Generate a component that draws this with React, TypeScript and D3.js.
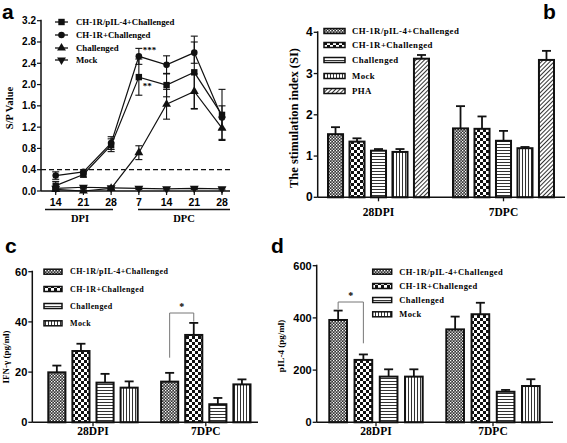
import React from "react";
import * as d3 from "d3";

// ---------- DATA ----------
const timeLabels = ["14", "21", "28", "7", "14", "21", "28"];
const lineSeries = ["CH-1R/pIL-4+Challenged", "CH-1R+Challenged", "Challenged", "Mock"];
const spSquare = [0.10, 0.31, 0.86, 2.14, 1.99, 2.23, 1.43];
const spSquareErr = [0.08, 0.05, 0.12, 0.34, 0.22, 0.68, 0.48];
const spCircle = [0.29, 0.36, 0.90, 2.53, 2.37, 2.60, 1.38];
const spCircleErr = [0.07, 0.04, 0.12, 0.15, 0.17, 0.20, 0.22];
const spTriangle = [0.03, 0.0, 0.05, 0.72, 1.63, 1.87, 1.18];
const spTriangleErr = [0.02, 0.02, 0.02, 0.13, 0.28, 0.33, 0.21];
const spMock = [0.05, 0.07, 0.06, 0.05, 0.04, 0.05, 0.04];
const spMockErr = [0.02, 0.02, 0.02, 0.02, 0.02, 0.02, 0.02];
const spTicks = [0, 0.4, 0.8, 1.2, 1.6, 2.0, 2.4, 2.8, 3.2];

const barCats = ["28DPI", "7DPC"];
const siSeries = ["CH-1R/pIL-4+Challenged", "CH-1R+Challenged", "Challenged", "Mock", "PHA"];
const siValues = [[1.53, 1.35, 1.13, 1.10, 3.36], [1.67, 1.66, 1.37, 1.19, 3.33]];
const siErrors = [[0.17, 0.08, 0.04, 0.07, 0.09], [0.54, 0.30, 0.24, 0.03, 0.22]];
const siTicks = [0, 1, 2, 3, 4];

const cytSeries = ["CH-1R/pIL-4+Challenged", "CH-1R+Challenged", "Challenged", "Mock"];
const ifnValues = [[19.9, 28.4, 15.8, 13.8], [16.2, 34.8, 7.2, 15.1]];
const ifnErrors = [[2.7, 2.9, 3.5, 2.5], [3.5, 4.8, 2.5, 2.0]];
const ifnTicks = [0, 20, 40, 60];
const il4Values = [[392, 239, 175, 175], [356, 414, 117, 139]];
const il4Errors = [[36, 21, 28, 28], [49, 44, 7, 26]];
const il4Ticks = [0, 200, 400, 600];

const patternIds = ["pFine", "pChecker", "pHoriz", "pVert", "pDiag"];

const SANS = "'Liberation Sans', Arial, sans-serif";
const SERIF = "'Liberation Serif', 'Times New Roman', serif";

function Patterns() {
  return (
    <defs>
      <pattern id="pFine" patternUnits="userSpaceOnUse" width={3} height={3}>
        <rect width={3} height={3} fill="#333" />
        <rect x={0} y={0} width={1.3} height={1.3} fill="#fff" />
        <rect x={1.5} y={1.5} width={1.3} height={1.3} fill="#fff" />
      </pattern>
      <pattern id="pChecker" patternUnits="userSpaceOnUse" width={6} height={6}>
        <rect width={6} height={6} fill="#fff" />
        <rect x={0} y={0} width={3} height={3} fill="#111" />
        <rect x={3} y={3} width={3} height={3} fill="#111" />
      </pattern>
      <pattern id="pHoriz" patternUnits="userSpaceOnUse" width={4} height={3}>
        <rect width={4} height={3} fill="#fff" />
        <rect x={0} y={0} width={4} height={1} fill="#333" />
      </pattern>
      <pattern id="pVert" patternUnits="userSpaceOnUse" width={3} height={4}>
        <rect width={3} height={4} fill="#fff" />
        <rect x={0} y={0} width={1} height={4} fill="#333" />
      </pattern>
      <pattern id="pDiag" patternUnits="userSpaceOnUse" width={3} height={3} patternTransform="rotate(45)">
        <rect width={3} height={3} fill="#fff" />
        <rect x={0} y={0} width={1} height={3} fill="#333" />
      </pattern>
    </defs>
  );
}

function Marker({ kind, x, y }: { kind: number; x: number; y: number }) {
  if (kind === 0) return <rect x={x - 3.2} y={y - 3.2} width={6.4} height={6.4} fill="#111" />;
  if (kind === 1) return <circle cx={x} cy={y} r={3.3} fill="#111" />;
  const sym = d3.symbol().type(d3.symbolTriangle).size(34)();
  if (kind === 2) return <path d={sym || ""} transform={`translate(${x},${y})`} fill="#111" />;
  return <path d={sym || ""} transform={`translate(${x},${y}) rotate(180)`} fill="#111" />;
}

function PanelA() {
  const y = d3.scaleLinear().domain([0, 3.2]).range([191, 20.7]);
  const x = d3.scaleLinear().domain([0, 6]).range([55.7, 222]);
  const series = [
    { v: spSquare, e: spSquareErr },
    { v: spCircle, e: spCircleErr },
    { v: spTriangle, e: spTriangleErr },
    { v: spMock, e: spMockErr },
  ];
  const line = d3.line<number>().x((_, i) => x(i)).y((d) => y(d));
  const legendY = [22, 35, 48, 60];
  return (
    <g>
      <text x={2} y={19} fontFamily={SANS} fontWeight="bold" fontSize={21}>a</text>
      <text transform={`translate(11,108) rotate(-90)`} textAnchor="middle" dominantBaseline="middle" fontFamily={SERIF} fontWeight="bold" fontSize={10.5}>S/P Value</text>
      <line x1={41} x2={41} y1={y(0)} y2={y(3.2) - 1} stroke="#111" strokeWidth={1.5} />
      <line x1={41} x2={230} y1={y(0)} y2={y(0)} stroke="#111" strokeWidth={1.5} />
      {spTicks.map((t) => (
        <g key={t}>
          <line x1={37} x2={41} y1={y(t)} y2={y(t)} stroke="#111" strokeWidth={1.2} />
          <text x={36} y={y(t)} textAnchor="end" dominantBaseline="central" fontFamily={SANS} fontWeight="bold" fontSize={10}>{t.toFixed(1)}</text>
        </g>
      ))}
      {timeLabels.map((t, i) => (
        <g key={i}>
          <line x1={x(i)} x2={x(i)} y1={y(0)} y2={y(0) + 4} stroke="#111" strokeWidth={1.2} />
          <text x={x(i)} y={206} textAnchor="middle" fontFamily={SANS} fontWeight="bold" fontSize={10.5}>{t}</text>
        </g>
      ))}
      <line x1={45} x2={113} y1={209.5} y2={209.5} stroke="#111" strokeWidth={1.3} />
      <line x1={138} x2={230} y1={209.5} y2={209.5} stroke="#111" strokeWidth={1.3} />
      <text x={80} y={222} textAnchor="middle" fontFamily={SERIF} fontWeight="bold" fontSize={10.5}>DPI</text>
      <text x={184} y={222} textAnchor="middle" fontFamily={SERIF} fontWeight="bold" fontSize={10.5}>DPC</text>
      <line x1={41} x2={230} y1={y(0.4)} y2={y(0.4)} stroke="#111" strokeWidth={1.2} strokeDasharray="5,3" />
      {series.map((s, k) => (
        <g key={k}>
          <path d={line(s.v) || ""} fill="none" stroke="#111" strokeWidth={1.2} />
          {s.v.map((v, i) => (
            <g key={i} stroke="#111" strokeWidth={1.1}>
              <line x1={x(i)} x2={x(i)} y1={y(v + s.e[i])} y2={y(Math.max(0, v - s.e[i]))} />
              <line x1={x(i) - 3.5} x2={x(i) + 3.5} y1={y(v + s.e[i])} y2={y(v + s.e[i])} />
              <line x1={x(i) - 3.5} x2={x(i) + 3.5} y1={y(Math.max(0, v - s.e[i]))} y2={y(Math.max(0, v - s.e[i]))} />
            </g>
          ))}
          {s.v.map((v, i) => <Marker key={"m" + i} kind={k} x={x(i)} y={y(v)} />)}
        </g>
      ))}
      <text x={x(3) + 4} y={y(2.53) - 3} fontFamily={SERIF} fontWeight="bold" fontSize={9}>***</text>
      <text x={x(3) + 4} y={y(2.0) + 4} fontFamily={SERIF} fontWeight="bold" fontSize={9}>**</text>
      {lineSeries.map((n, k) => (
        <g key={n}>
          <line x1={55} x2={68} y1={legendY[k]} y2={legendY[k]} stroke="#111" strokeWidth={1.3} />
          <Marker kind={k} x={61.5} y={legendY[k]} />
          <text x={76} y={legendY[k]} dominantBaseline="central" fontFamily={SERIF} fontWeight="bold" fontSize={8.8}>{n}</text>
        </g>
      ))}
    </g>
  );
}

type BarProps = {
  label: string; labelX: number; labelY: number;
  values: number[][]; errors: number[][]; names: string[];
  domainMax: number; y0: number; y1: number; axisX: number; axisX1: number;
  centers: [number, number]; innerHalf: number; padInner: number;
  ticks: number[]; tickFont: number;
  yTitle: string; yTitleX: number; yTitleY: number; yTitleSize: number;
  legendX: number; legendW: number; legendYs: number[]; legendTextX: number; legendFont: number;
  catY: number;
  bracket?: { g: number; a: number; b: number; top: number; aLow: number; bLow: number };
};

function BarPanel(p: BarProps) {
  const y = d3.scaleLinear().domain([0, p.domainMax]).range([p.y0, p.y1]);
  const outer = d3.scalePoint<string>().domain(barCats).range(p.centers);
  const inner = d3.scaleBand<string>().domain(p.names).range([-p.innerHalf, p.innerHalf]).paddingInner(p.padInner);
  const bw = inner.bandwidth();
  const capHalf = 4.5;
  return (
    <g>
      <text x={p.labelX} y={p.labelY} fontFamily={SANS} fontWeight="bold" fontSize={21}>{p.label}</text>
      <text transform={`translate(${p.yTitleX},${p.yTitleY}) rotate(-90)`} textAnchor="middle" dominantBaseline="middle" fontFamily={SERIF} fontWeight="bold" fontSize={p.yTitleSize}>{p.yTitle}</text>
      {barCats.map((c, gi) => (
        <g key={c}>
          {p.values[gi].map((v, si) => {
            const bx = (outer(c) || 0) + (inner(p.names[si]) || 0);
            const cx = bx + bw / 2;
            const top = y(v);
            const et = y(v + p.errors[gi][si]);
            return (
              <g key={si}>
                <line x1={cx} x2={cx} y1={top} y2={et} stroke="#111" strokeWidth={1.8} />
                <line x1={cx - capHalf} x2={cx + capHalf} y1={et} y2={et} stroke="#111" strokeWidth={1.8} />
                <rect x={bx} y={top} width={bw} height={p.y0 - top} fill={`url(#${patternIds[si]})`} stroke="#111" strokeWidth={2} />
              </g>
            );
          })}
          <line x1={outer(c)} x2={outer(c)} y1={p.y0} y2={p.y0 + 4} stroke="#111" strokeWidth={1.3} />
          <text x={outer(c)} y={p.catY} textAnchor="middle" fontFamily={SERIF} fontWeight="bold" fontSize={11.5}>{c}</text>
        </g>
      ))}
      <line x1={p.axisX} x2={p.axisX} y1={p.y0} y2={y(p.domainMax) - 1} stroke="#111" strokeWidth={1.5} />
      <line x1={p.axisX} x2={p.axisX1} y1={p.y0} y2={p.y0} stroke="#111" strokeWidth={1.5} />
      {p.ticks.map((t) => (
        <g key={t}>
          <line x1={p.axisX - 4} x2={p.axisX} y1={y(t)} y2={y(t)} stroke="#111" strokeWidth={1.3} />
          <text x={p.axisX - 5} y={y(t)} textAnchor="end" dominantBaseline="central" fontFamily={SANS} fontWeight="bold" fontSize={p.tickFont}>{t}</text>
        </g>
      ))}
      {p.names.map((n, k) => (
        <g key={n}>
          <rect x={p.legendX} y={p.legendYs[k] - 2.5} width={p.legendW} height={5} fill={`url(#${patternIds[k]})`} stroke="#111" strokeWidth={1.5} />
          <text x={p.legendTextX} y={p.legendYs[k]} dominantBaseline="central" fontFamily={SERIF} fontWeight="bold" fontSize={p.legendFont} letterSpacing={0.4}>{n}</text>
        </g>
      ))}
      {p.bracket && (() => {
        const b = p.bracket!;
        const c = barCats[b.g];
        const xa = (outer(c) || 0) + (inner(p.names[b.a]) || 0) + bw / 2;
        const xb = (outer(c) || 0) + (inner(p.names[b.b]) || 0) + bw / 2;
        return (
          <g>
            <path d={`M${xa},${b.aLow}V${b.top}H${xb}V${b.bLow}`} fill="none" stroke="#777" strokeWidth={1} />
            <text x={(xa + xb) / 2} y={b.top - 3} textAnchor="middle" fontFamily={SERIF} fontWeight="bold" fontSize={10}>*</text>
          </g>
        );
      })()}
    </g>
  );
}

export default function App() {
  return (
    <svg width={567} height={443} style={{ position: "absolute", left: 0, top: 0, background: "#fff" }}>
      <Patterns />
      <rect width={567} height={443} fill="#fff" />
      <PanelA />
      <BarPanel
        label="b" labelX={543} labelY={19}
        values={siValues} errors={siErrors} names={siSeries}
        domainMax={4} y0={197.3} y1={32.3} axisX={317.7} axisX1={565}
        centers={[378.5, 503.5]} innerHalf={50.5} padInner={0.3}
        ticks={siTicks} tickFont={12}
        yTitle="The stimulation index (SI)" yTitleX={295} yTitleY={118} yTitleSize={12.5}
        legendX={324} legendW={21} legendYs={[31, 45, 60, 76, 91]} legendTextX={352} legendFont={8.8}
        catY={216}
      />
      <BarPanel
        label="c" labelX={5} labelY={253}
        values={ifnValues} errors={ifnErrors} names={cytSeries}
        domainMax={60} y0={422.3} y1={271.7} axisX={32.3} axisX1={258}
        centers={[93, 205.8]} innerHalf={44.7} padInner={0.29}
        ticks={ifnTicks} tickFont={11}
        yTitle="IFN-γ  (pg/ml)" yTitleX={7} yTitleY={357} yTitleSize={9}
        legendX={44} legendW={18} legendYs={[271.7, 289, 306, 323.3]} legendTextX={70} legendFont={8}
        catY={435}
        bracket={{ g: 1, a: 0, b: 1, top: 313, aLow: 357.7, bLow: 321.7 }}
      />
      <BarPanel
        label="d" labelX={271} labelY={253}
        values={il4Values} errors={il4Errors} names={cytSeries}
        domainMax={600} y0={422.3} y1={265.7} axisX={316.7} axisX1={553}
        centers={[376, 493]} innerHalf={46.7} padInner={0.3}
        ticks={il4Ticks} tickFont={11}
        yTitle="pIL-4 (pg/ml)" yTitleX={282} yTitleY={346} yTitleSize={9}
        legendX={372.7} legendW={19} legendYs={[271.7, 286, 300, 314.3]} legendTextX={399.3} legendFont={8.5}
        catY={435}
        bracket={{ g: 0, a: 0, b: 1, top: 302, aLow: 309.3, bLow: 343.3 }}
      />
    </svg>
  );
}
